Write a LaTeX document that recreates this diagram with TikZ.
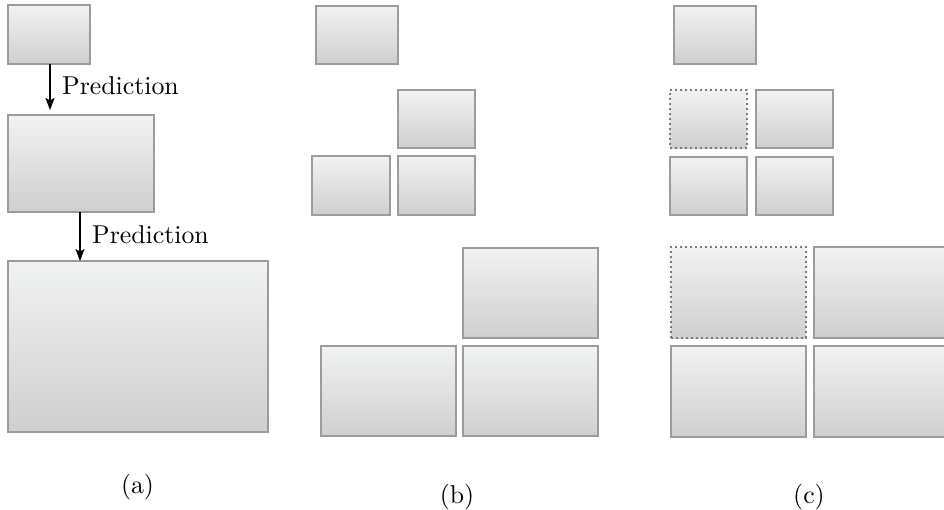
\documentclass[tikz,border=0pt]{standalone}
\usepackage{fontspec}
\setmainfont{lmroman10-regular}[Extension=.otf]
\usetikzlibrary{fit,arrows.meta}
\definecolor{boxtop}{HTML}{F1F2F2}
\definecolor{boxbot}{HTML}{CFCFCF}
\definecolor{boxline}{HTML}{9C9C9C}
\definecolor{dotline}{HTML}{7A7A7A}
\tikzset{
  box/.style={draw=boxline, line width=1.2pt, top color=boxtop, bottom color=boxbot, inner sep=0pt, outer sep=0pt},
  dotbox/.style={box, draw=dotline, line width=2pt, line cap=butt, dash pattern=on 2pt off 3pt},
  arr/.style={draw=black, line width=1.6pt, -{Stealth[length=12pt,width=9pt,inset=2.5pt]}},
  lbl/.style={font=\fontsize{25.8}{31}\selectfont, inner sep=0pt, anchor=base west},
  sublbl/.style={font=\fontsize{25.8}{31}\selectfont, inner sep=0pt, anchor=base}
}
\begin{document}
\begin{tikzpicture}[x=1pt,y=-1pt]
\useasboundingbox (0,0) rectangle (944,509);
\clip (0,0) rectangle (944,509);
% (a)
\node[box, fit={(8,5) (90,64)}] (a1) {};
\node[box, fit={(8,115) (154,212)}] (a2) {};
\node[box, fit={(8,261) (268,432)}] (a3) {};
\coordinate (p1) at (50,0);
\coordinate (p2) at (80,0);
\draw[arr] (a1.south -| p1) -- ([yshift=5pt]a2.north -| p1);
\draw[arr] (a2.south -| p2) -- (a3.north -| p2);
\node[lbl] (t1) at (62,94) {Prediction};
\node[lbl] (t2) at (92,243) {Prediction};
\node[sublbl] (ca) at (137.5,493) {(a)};
% (b)
\node[box, fit={(316,6) (398,64)}] (b1) {};
\node[box, fit={(398,90) (475,148)}] (b2) {};
\node[box, fit={(312,156) (390,215)}] (b3) {};
\node[box, fit={(398,156) (475,215)}] (b4) {};
\node[box, fit={(463,248) (598,338)}] (b5) {};
\node[box, fit={(321,346) (456,436)}] (b6) {};
\node[box, fit={(463,346) (598,436)}] (b7) {};
\node[sublbl] (cb) at (457,503) {(b)};
% (c)
\node[box, fit={(674,6) (756,64)}] (c1) {};
\node[dotbox, fit={(670,90) (747,148)}] (c2) {};
\node[box, fit={(756,90) (833,148)}] (c3) {};
\node[box, fit={(670,157) (747,215)}] (c4) {};
\node[box, fit={(756,157) (833,215)}] (c5) {};
\node[dotbox, fit={(671,247) (806,338)}] (c6) {};
\node[box, fit={(814,247) (949,338)}] (c7) {};
\node[box, fit={(671,346) (806,437)}] (c8) {};
\node[box, fit={(814,346) (949,437)}] (c9) {};
\node[sublbl] (cc) at (809,503) {(c)};
\end{tikzpicture}
\end{document}
